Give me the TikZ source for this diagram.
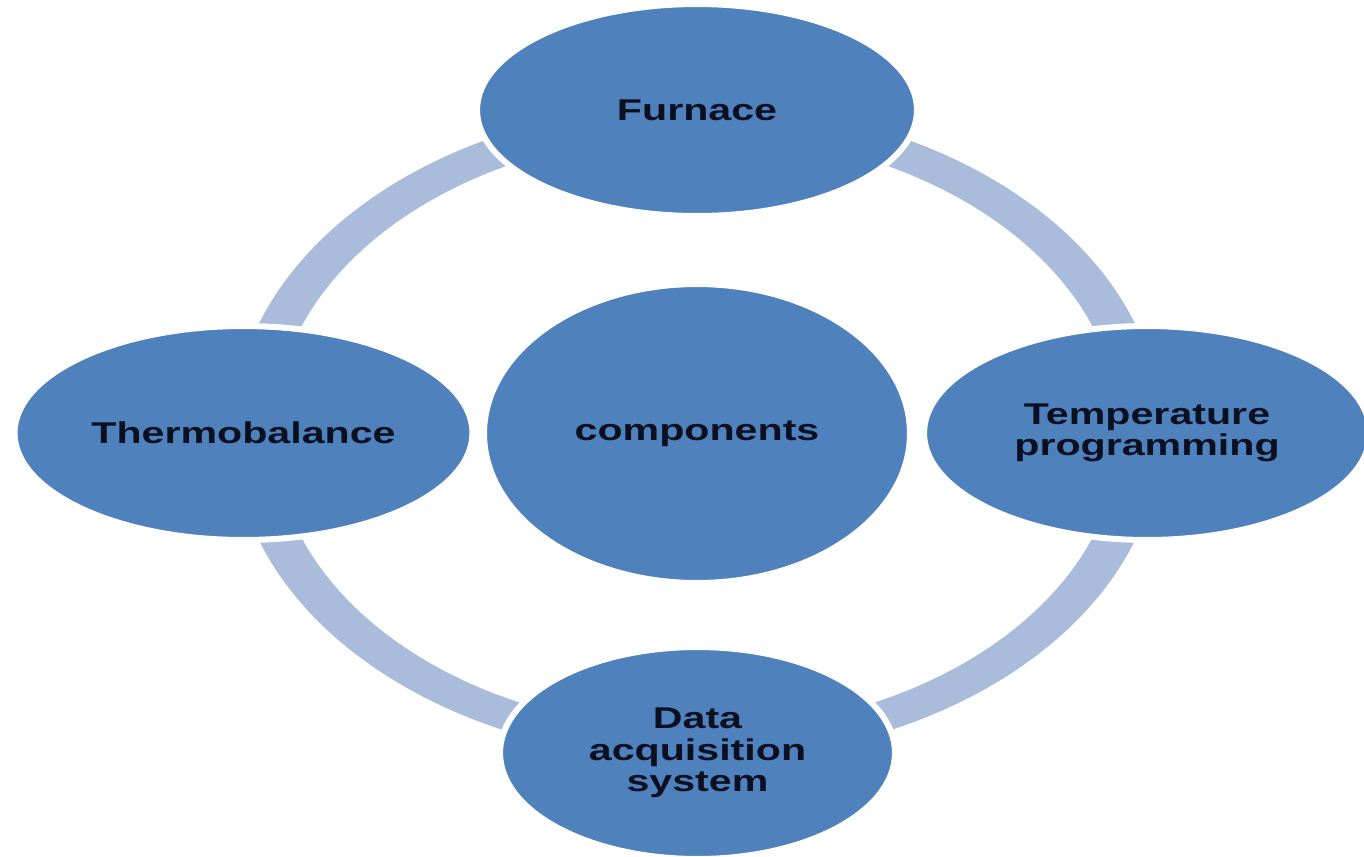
\documentclass[tikz,border=0pt]{standalone}
\usepackage{fontspec}
\usetikzlibrary{shapes.geometric}
% wide bold sans for the labels
\newfontfamily\lblfont[FakeStretch=1.37]{Liberation Sans}
\definecolor{nodeblue}{HTML}{4F81BD}
\definecolor{ringblue}{HTML}{A9BCDB}
\definecolor{labelink}{HTML}{0B1020}
\tikzset{
  x=0.02cm, y=-0.02cm,
  part/.style={ellipse, fill=nodeblue, draw=white, line width=0.12cm,
    inner sep=0pt, align=center, text=labelink,
    font=\lblfont\bfseries\fontsize{17.1pt}{17.9pt}\selectfont},
}
\begin{document}
\begin{tikzpicture}
\useasboundingbox (0,0) rectangle (1364,856);
\clip (0,0) rectangle (1364,856);
\fill[white] (0,0) rectangle (1364,856);

% the cycle ring behind the parts
\fill[ringblue, even odd rule]
  (697,432) ellipse [x radius=9.28cm, y radius=6.56cm]
  (697,432) ellipse [x radius=8.46cm, y radius=5.96cm];

% centre and the four parts
\node[part, minimum width=8.52cm, minimum height=5.98cm] (comp) at (697,433.5) {components};
\node[part, minimum width=8.8cm,  minimum height=4.24cm] (furn) at (697,110) {Furnace};
\node[part, minimum width=9.16cm, minimum height=4.28cm] (tbal) at (243.5,433) {Thermobalance};
\node[part, minimum width=8.92cm, minimum height=4.28cm] (temp) at (1147,433) {Temperature\\programming};
\node[part, minimum width=7.9cm,  minimum height=4.24cm] (daq)  at (697.5,753) {Data\\acquisition\\system};
\end{tikzpicture}
\end{document}
